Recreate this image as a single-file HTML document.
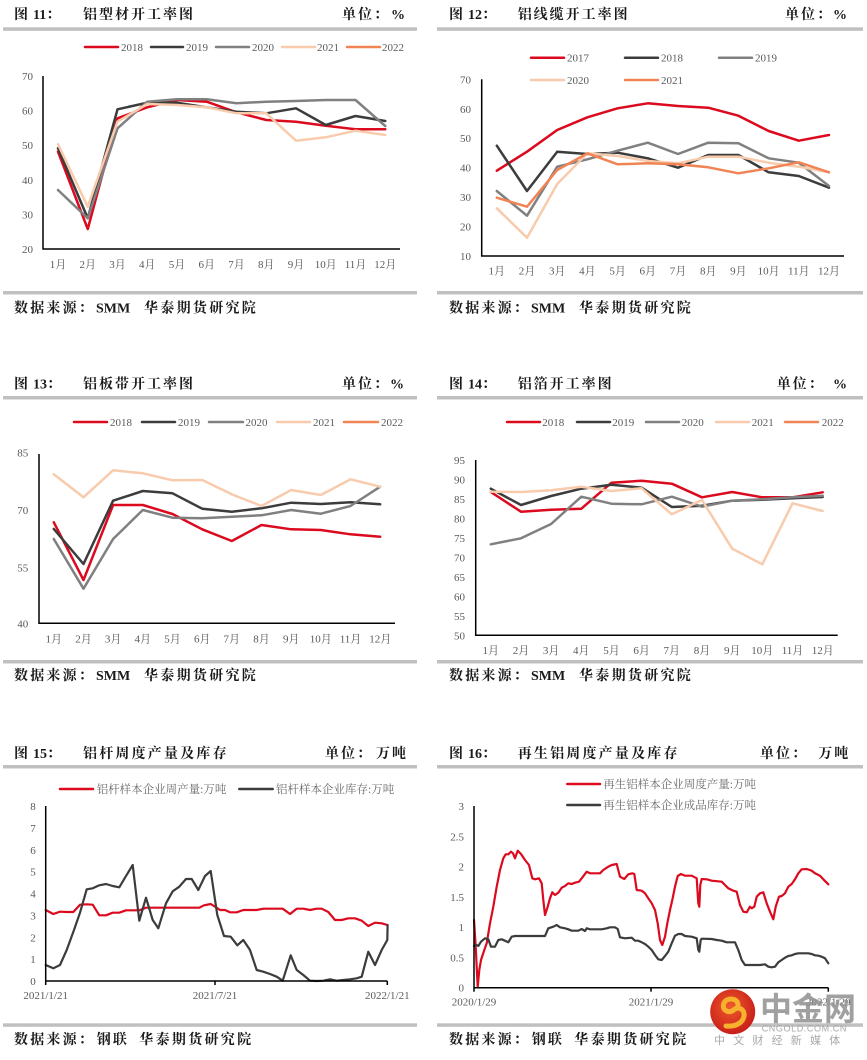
<!DOCTYPE html>
<html><head><meta charset="utf-8">
<style>
html,body{margin:0;padding:0;background:#fff;width:867px;height:1060px;overflow:hidden;}
svg{display:block;}
.t{font-family:"Liberation Serif","Noto Serif CJK SC",serif;font-size:14px;font-weight:bold;fill:#1a1a1a;}
.lg{font-family:"Liberation Serif","Noto Serif CJK SC",serif;font-size:11px;fill:#595959;}
.lg2{font-family:"Liberation Serif","Noto Serif CJK SC",serif;font-size:11.5px;fill:#6a6a6a;}
.tk{font-family:"Liberation Serif","Noto Serif CJK SC",serif;font-size:11px;fill:#595959;}
.ax{stroke:#000;stroke-width:1.5;fill:none;}
.s{fill:none;stroke-width:2.5;stroke-linejoin:round;stroke-linecap:round;}
.s2{fill:none;stroke-width:2.2;stroke-linejoin:round;stroke-linecap:round;}
.r{stroke:#dc0a1e;} .k{stroke:#3c3c3c;} .g{stroke:#808080;} .p{stroke:#f8cbad;} .o{stroke:#f08454;}
.rule{fill:#c0c0c0;}
</style></head><body>
<svg width="867" height="1060" viewBox="0 0 867 1060" xmlns="http://www.w3.org/2000/svg">
<defs>
<clipPath id="c15"><rect x="0" y="980" width="409" height="30"/></clipPath>
<radialGradient id="lg1" cx="45%" cy="40%" r="60%">
<stop offset="0" stop-color="#ef5a2a"/><stop offset="1" stop-color="#c81e1a"/>
</radialGradient>
</defs>

<!-- ============ CHART 11 ============ -->
<text class="t" x="14" y="19">图</text><text class="t" x="33" y="19">11：</text>
<text class="t" x="83" y="19" letter-spacing="2">铝型材开工率图</text>
<text class="t" x="342" y="19" letter-spacing="2">单位：</text><text class="t" x="405" y="19" text-anchor="end">%</text>
<rect class="rule" x="3" y="27.3" width="414" height="3.5"/>
<g>
<line x1="85" y1="47" x2="118" y2="47" class="s r"/><text class="lg" x="121" y="51">2018</text>
<line x1="151" y1="47" x2="183" y2="47" class="s k"/><text class="lg" x="186" y="51">2019</text>
<line x1="216" y1="47" x2="249" y2="47" class="s g"/><text class="lg" x="252" y="51">2020</text>
<line x1="282" y1="47" x2="315" y2="47" class="s p"/><text class="lg" x="317" y="51">2021</text>
<line x1="347" y1="47" x2="380" y2="47" class="s o"/><text class="lg" x="382" y="51">2022</text>
</g>
<g class="tk" text-anchor="end">
<text x="33" y="80">70</text><text x="33" y="114.6">60</text><text x="33" y="149.2">50</text>
<text x="33" y="183.8">40</text><text x="33" y="218.4">30</text><text x="33" y="253">20</text>
</g>
<g class="tk" text-anchor="middle">
<text x="58" y="268">1月</text><text x="87.75" y="268">2月</text><text x="117.5" y="268">3月</text><text x="147.25" y="268">4月</text>
<text x="177" y="268">5月</text><text x="206.75" y="268">6月</text><text x="236.5" y="268">7月</text><text x="266.25" y="268">8月</text>
<text x="296" y="268">9月</text><text x="325.75" y="268">10月</text><text x="355.5" y="268">11月</text><text x="385.25" y="268">12月</text>
</g>
<polyline class="s r" points="58,151.7 87.75,229 117.5,118.3 147.25,107.3 177,100 206.75,101.7 236.5,112.3 266.25,120 296,121.7 325.75,125.7 355.5,129.3 385.25,129.3"/>
<polyline class="s k" points="58,148.3 87.75,218.3 117.5,109.3 147.25,102.7 177,102.7 206.75,107.3 236.5,111.7 266.25,113.3 296,108.3 325.75,125 355.5,116 385.25,121"/>
<polyline class="s g" points="58,190 87.75,218.3 117.5,128.3 147.25,101.7 177,99.3 206.75,99.3 236.5,103.3 266.25,101.7 296,101 325.75,100 355.5,100 385.25,126"/>
<polyline class="s p" points="58,144.3 87.75,206.7 117.5,121.7 147.25,104 177,105 206.75,107.3 236.5,113.3 266.25,113.3 296,140.7 325.75,137.3 355.5,130.7 385.25,135"/>
<polyline class="ax" points="43,76 43,249 400,249"/>
<rect class="rule" x="3" y="291" width="414" height="3.5"/>
<text class="t" x="14" y="312.5" letter-spacing="2.2">数据来源：</text><text class="t" x="96" y="312.5">SMM</text>
<text class="t" x="144" y="312.5" letter-spacing="2.3">华泰期货研究院</text>

<!-- ============ CHART 12 ============ -->
<text class="t" x="449" y="19">图</text><text class="t" x="468" y="19">12：</text>
<text class="t" x="517.7" y="19" letter-spacing="2">铝线缆开工率图</text>
<text class="t" x="785" y="19" letter-spacing="2">单位：</text><text class="t" x="847" y="19" text-anchor="end">%</text>
<rect class="rule" x="437" y="27.3" width="426" height="3.5"/>
<g>
<line x1="531" y1="57.7" x2="564" y2="57.7" class="s r"/><text class="lg" x="567" y="61.7">2017</text>
<line x1="625" y1="57.7" x2="658" y2="57.7" class="s k"/><text class="lg" x="661" y="61.7">2018</text>
<line x1="719" y1="57.7" x2="752" y2="57.7" class="s g"/><text class="lg" x="755" y="61.7">2019</text>
<line x1="531" y1="80" x2="564" y2="80" class="s p"/><text class="lg" x="567" y="84">2020</text>
<line x1="625" y1="80" x2="658" y2="80" class="s o"/><text class="lg" x="661" y="84">2021</text>
</g>
<g class="tk" text-anchor="end">
<text x="471" y="83.3">70</text><text x="471" y="112.8">60</text><text x="471" y="142.2">50</text>
<text x="471" y="171.7">40</text><text x="471" y="201.1">30</text><text x="471" y="230.6">20</text><text x="471" y="260">10</text>
</g>
<g class="tk" text-anchor="middle">
<text x="496.8" y="274.7">1月</text><text x="527" y="274.7">2月</text><text x="557.2" y="274.7">3月</text><text x="587.4" y="274.7">4月</text>
<text x="617.6" y="274.7">5月</text><text x="647.8" y="274.7">6月</text><text x="678" y="274.7">7月</text><text x="708.2" y="274.7">8月</text>
<text x="738.4" y="274.7">9月</text><text x="768.6" y="274.7">10月</text><text x="798.8" y="274.7">11月</text><text x="829" y="274.7">12月</text>
</g>
<polyline class="s r" points="496.8,170.7 527,151.7 557.2,130 587.4,117.3 617.6,108.3 647.8,103.3 678,106 708.2,107.7 738.4,115.7 768.6,131 798.8,140.7 829,135"/>
<polyline class="s k" points="496.8,145.7 527,191 557.2,151.7 587.4,154 617.6,152.7 647.8,158.3 678,167.7 708.2,155 738.4,155 768.6,172.3 798.8,176 829,187.7"/>
<polyline class="s g" points="496.8,191 527,215.7 557.2,166.7 587.4,159.3 617.6,150.7 647.8,142.7 678,154 708.2,142.7 738.4,143.3 768.6,158.3 798.8,162.7 829,186"/>
<polyline class="s p" points="496.8,208.3 527,237.7 557.2,184 587.4,153.3 617.6,156 647.8,161 678,163.3 708.2,156.7 738.4,156.7 768.6,162.7 798.8,166.7 829,172.3"/>
<polyline class="s o" points="496.8,197.7 527,206.7 557.2,170 587.4,153.3 617.6,164.3 647.8,163.3 678,164.3 708.2,167.3 738.4,173.3 768.6,168.3 798.8,162.3 829,172.3"/>
<polyline class="ax" points="481.7,79.3 481.7,256 844,256"/>
<rect class="rule" x="437" y="291" width="426" height="3.5"/>
<text class="t" x="449" y="312.5" letter-spacing="2.2">数据来源：</text><text class="t" x="531" y="312.5">SMM</text>
<text class="t" x="579" y="312.5" letter-spacing="2.3">华泰期货研究院</text>

<!-- ============ CHART 13 ============ -->
<text class="t" x="14" y="388.5">图</text><text class="t" x="33" y="388.5">13：</text>
<text class="t" x="83" y="388.5" letter-spacing="2">铝板带开工率图</text>
<text class="t" x="342" y="388.5" letter-spacing="2">单位：</text><text class="t" x="404" y="388.5" text-anchor="end">%</text>
<rect class="rule" x="3" y="396" width="414" height="3.5"/>
<g>
<line x1="74" y1="422" x2="107" y2="422" class="s r"/><text class="lg" x="110" y="426">2018</text>
<line x1="142" y1="422" x2="175" y2="422" class="s k"/><text class="lg" x="178" y="426">2019</text>
<line x1="209" y1="422" x2="243" y2="422" class="s g"/><text class="lg" x="245.5" y="426">2020</text>
<line x1="277" y1="422" x2="310" y2="422" class="s p"/><text class="lg" x="313" y="426">2021</text>
<line x1="344" y1="422" x2="378" y2="422" class="s o"/><text class="lg" x="381" y="426">2022</text>
</g>
<g class="tk" text-anchor="end">
<text x="28.3" y="456.7">85</text><text x="28.3" y="514">70</text><text x="28.3" y="571.3">55</text><text x="28.3" y="627.3">40</text>
</g>
<g class="tk" text-anchor="middle">
<text x="53.8" y="642.3">1月</text><text x="83.5" y="642.3">2月</text><text x="113.1" y="642.3">3月</text><text x="142.8" y="642.3">4月</text>
<text x="172.5" y="642.3">5月</text><text x="202.2" y="642.3">6月</text><text x="231.8" y="642.3">7月</text><text x="261.5" y="642.3">8月</text>
<text x="291.2" y="642.3">9月</text><text x="320.8" y="642.3">10月</text><text x="350.5" y="642.3">11月</text><text x="380.2" y="642.3">12月</text>
</g>
<polyline class="s r" points="53.8,522.3 83.5,580 113.1,505 142.8,505 172.5,514 202.2,529.3 231.8,541 261.5,525 291.2,529.3 320.8,530 350.5,534.3 380.2,536.7"/>
<polyline class="s k" points="53.8,529 83.5,564 113.1,500.7 142.8,491 172.5,493.3 202.2,508.7 231.8,511.7 261.5,508.3 291.2,502.7 320.8,504 350.5,502.3 380.2,504.3"/>
<polyline class="s g" points="53.8,539 83.5,588.7 113.1,539 142.8,510 172.5,517.7 202.2,518.3 231.8,516.7 261.5,515.3 291.2,510 320.8,513.7 350.5,506 380.2,486.7"/>
<polyline class="s p" points="53.8,474.3 83.5,497.3 113.1,470.3 142.8,473.3 172.5,480.3 202.2,480 231.8,494.3 261.5,506 291.2,490 320.8,495 350.5,479.3 380.2,486.7"/>
<polyline class="ax" points="39,454 39,623.3 395,623.3"/>
<rect class="rule" x="3" y="660" width="414" height="3.5"/>
<text class="t" x="14" y="680" letter-spacing="2.2">数据来源：</text><text class="t" x="96" y="680">SMM</text>
<text class="t" x="144" y="680" letter-spacing="2.3">华泰期货研究院</text>

<!-- ============ CHART 14 ============ -->
<text class="t" x="449" y="388.5">图</text><text class="t" x="468" y="388.5">14：</text>
<text class="t" x="517.7" y="388.5" letter-spacing="2">铝箔开工率图</text>
<text class="t" x="776.7" y="388.5" letter-spacing="2">单位：</text><text class="t" x="847" y="388.5" text-anchor="end">%</text>
<rect class="rule" x="437" y="396" width="426" height="3.5"/>
<g>
<line x1="507" y1="422" x2="540" y2="422" class="s r"/><text class="lg" x="542.3" y="426">2018</text>
<line x1="577" y1="422" x2="610" y2="422" class="s k"/><text class="lg" x="612.3" y="426">2019</text>
<line x1="646" y1="422" x2="679" y2="422" class="s g"/><text class="lg" x="681.7" y="426">2020</text>
<line x1="716" y1="422" x2="749" y2="422" class="s p"/><text class="lg" x="751.7" y="426">2021</text>
<line x1="785" y1="422" x2="818" y2="422" class="s o"/><text class="lg" x="821.7" y="426">2022</text>
</g>
<g class="tk" text-anchor="end">
<text x="465" y="464">95</text><text x="465" y="483.5">90</text><text x="465" y="503">85</text><text x="465" y="522.4">80</text>
<text x="465" y="541.9">75</text><text x="465" y="561.4">70</text><text x="465" y="580.9">65</text><text x="465" y="600.4">60</text>
<text x="465" y="619.8">55</text><text x="465" y="639.3">50</text>
</g>
<g class="tk" text-anchor="middle">
<text x="490.8" y="654">1月</text><text x="521" y="654">2月</text><text x="551.1" y="654">3月</text><text x="581.3" y="654">4月</text>
<text x="611.5" y="654">5月</text><text x="641.6" y="654">6月</text><text x="671.8" y="654">7月</text><text x="702" y="654">8月</text>
<text x="732.2" y="654">9月</text><text x="762.3" y="654">10月</text><text x="792.5" y="654">11月</text><text x="822.7" y="654">12月</text>
</g>
<polyline class="s r" points="490.8,492 521,511.7 551.1,509.7 581.3,508.7 611.5,482.7 641.6,480.7 671.8,483.7 702,497.3 732.2,492 762.3,497.3 792.5,497.3 822.7,492.3"/>
<polyline class="s k" points="490.8,488.7 521,505 551.1,496 581.3,488.7 611.5,484.7 641.6,487.7 671.8,507 702,505.7 732.2,500.7 762.3,499.7 792.5,498.3 822.7,497"/>
<polyline class="s g" points="490.8,544.3 521,538.3 551.1,524 581.3,496.7 611.5,503.7 641.6,504.3 671.8,496.7 702,506.7 732.2,500.7 762.3,499.3 792.5,497.3 822.7,495.7"/>
<polyline class="s p" points="490.8,491.7 521,492 551.1,490.3 581.3,486.7 611.5,491 641.6,488.3 671.8,514.3 702,500 732.2,548.7 762.3,564.3 792.5,503.3 822.7,511"/>
<polyline class="ax" points="475.7,460 475.7,635.3 837.7,635.3"/>
<rect class="rule" x="437" y="660" width="426" height="3.5"/>
<text class="t" x="449" y="680" letter-spacing="2.2">数据来源：</text><text class="t" x="531" y="680">SMM</text>
<text class="t" x="579" y="680" letter-spacing="2.3">华泰期货研究院</text>

<!-- ============ CHART 15 ============ -->
<text class="t" x="14" y="758">图</text><text class="t" x="33" y="758">15：</text>
<text class="t" x="83" y="758" letter-spacing="2.2">铝杆周度产量及库存</text>
<text class="t" x="325" y="758" letter-spacing="2">单位：</text><text class="t" x="376" y="758" letter-spacing="2">万吨</text>
<rect class="rule" x="3" y="765" width="414" height="3.5"/>
<line x1="60" y1="789" x2="93" y2="789" class="s2 r" style="stroke-width:2.5"/><text class="lg2" x="96.7" y="793">铝杆样本企业周产量:万吨</text>
<line x1="239.3" y1="789" x2="272.7" y2="789" class="s2 k" style="stroke-width:2.5"/><text class="lg2" x="276" y="793">铝杆样本企业库存:万吨</text>
<g class="tk" text-anchor="end">
<text x="35.7" y="810">8</text><text x="35.7" y="831.9">7</text><text x="35.7" y="853.8">6</text><text x="35.7" y="875.6">5</text>
<text x="35.7" y="897.5">4</text><text x="35.7" y="919.4">3</text><text x="35.7" y="941.3">2</text><text x="35.7" y="963.1">1</text><text x="35.7" y="985">0</text>
</g>
<g class="tk" text-anchor="middle" clip-path="url(#c15)">
<text x="45.7" y="999">2021/1/21</text><text x="215" y="999">2021/7/21</text><text x="387.3" y="999">2022/1/21</text>
</g>
<polyline class="s2 r" points="45.7,910 53.3,914 60,911.7 66.7,912 73.3,912 80,904.7 86.7,904.3 92.7,904.7 99.3,915.3 106,915.3 112.7,912.7 119.3,912.7 126,910.3 132.7,910.3 139.3,910.3 146,907.7 199.3,907.7 204,905.3 210.7,904 215,906.7 220,910 225,910 230,912.3 236.7,912.3 243.3,910 256.7,910 263.3,908.7 282.7,908.7 290,914 296.7,908.7 303.3,908.7 310,910 316.7,908.7 321.7,908.7 328.3,912 335,920 341.7,920 348.3,918.3 355,918.3 361.7,920.7 368.3,926 375,922.7 381.7,923.3 387.3,925"/>
<polyline class="s2 k" points="45.7,965 53.3,968.3 60,965 66.7,950 74,930 80,912.7 86.7,889.3 92.7,888.3 99.3,885.3 106,884 112.7,886 119.3,887.3 126,876 132.7,865 139.3,920.7 146,897.7 152.7,920 158.3,928.3 166,903.3 172.7,891.3 179.3,886.7 186,879 191.7,879 198.3,890 205,876 210.7,871 217.3,915 224,936 230.7,936.7 237.3,945.3 243.3,940 250,950 256.7,970 263.3,971.7 270,974 276.7,976.7 282.7,980.7 290.7,955.3 296.7,970 303.3,975 310,980.7 316.7,981 323.3,980.7 330,979.3 336.7,980.7 343.3,980 350,979.3 356.7,978.3 361.7,976.7 368.3,951.7 375,965 381.7,950 387.3,940 387.6,925"/>
<polyline class="ax" points="45.7,806 45.7,981 387.3,981"/>
<line class="ax" x1="215" y1="981" x2="215" y2="985"/><line class="ax" x1="387.3" y1="981" x2="387.3" y2="985"/><line class="ax" x1="45.7" y1="981" x2="45.7" y2="985"/>
<rect class="rule" x="3" y="1023.3" width="414" height="3.5"/>
<text class="t" x="14" y="1044" letter-spacing="2.2">数据来源：</text><text class="t" x="96.7" y="1044" letter-spacing="2.2">钢联</text>
<text class="t" x="139.3" y="1044" letter-spacing="2.3">华泰期货研究院</text>

<!-- ============ CHART 16 ============ -->
<text class="t" x="449" y="758">图</text><text class="t" x="468" y="758">16：</text>
<text class="t" x="517.7" y="758" letter-spacing="2.2">再生铝周度产量及库存</text>
<text class="t" x="760" y="758" letter-spacing="2">单位：</text><text class="t" x="818.3" y="758" letter-spacing="2">万吨</text>
<rect class="rule" x="437" y="765" width="426" height="3.5"/>
<line x1="567.3" y1="784" x2="600" y2="784" class="s2 r" style="stroke-width:2.5"/><text class="lg2" x="603.3" y="788">再生铝样本企业周度产量:万吨</text>
<line x1="567.3" y1="805" x2="600" y2="805" class="s2 k" style="stroke-width:2.5"/><text class="lg2" x="603.3" y="809">再生铝样本企业成品库存:万吨</text>
<g class="tk" text-anchor="end">
<text x="464" y="810">3</text><text x="464" y="840.3">2.5</text><text x="464" y="870.6">2</text><text x="464" y="900.8">1.5</text>
<text x="464" y="931.1">1</text><text x="464" y="961.4">0.5</text><text x="464" y="991.7">0</text>
</g>
<g class="tk" text-anchor="middle">
<text x="474" y="1005.7">2020/1/29</text><text x="651" y="1005.7">2021/1/29</text><text x="828.3" y="1005.7">2022/1/29</text>
</g>
<polyline class="s2 r" points="474,920 475.7,946.7 477.7,986.7 479.3,970 481,960 484.3,950 486.7,943.3 490,923.3 493.3,906.7 496.7,886.7 500,870 503.3,858.3 505.7,854.3 508.3,854.3 511,851.7 513,853.3 515,858.3 517.7,850.7 521,854 525,860 529,865 532.3,878.3 535,879.3 539,878.3 541.7,883.3 543.3,900 545,915 547.7,906.7 550,898.3 552.3,892.3 555,895 558.3,892.7 561.7,887.7 565,886 568.3,883.3 571.7,884 575,882.7 579,881.7 581.7,878.3 586.7,871.7 590,873.3 600,873.3 603.3,870 608.3,866.7 611.7,865 616.7,864 620,876.7 624.3,879 628.3,874.3 632.3,873.3 634.3,874 636.7,890 641.7,890.7 645,893.3 648.3,898.3 651.7,903.3 655,910 657.7,923.3 660,940 662.3,945 665,936.7 667.3,923.3 670,910 672.3,900 675,886.7 677.7,876 681,874 685,875.7 691.7,875.7 696.7,878.3 698.3,903.3 699.3,906.7 700.3,885 701.7,879 706.7,879.3 711.7,880.7 721.7,881.7 725,885 728.3,888.3 733.3,890.7 736.7,891.7 740,905 743.3,911.7 746.7,912.3 750,906.7 751.7,908.3 754.3,906.7 756.7,896.7 760,893.3 763.3,892.3 766.7,903.3 770,911.7 773.3,919.3 775.7,906.7 779,896.7 781.7,896 785,893.3 788.3,886.7 791.7,884 795,879.3 798.3,873.3 801.7,869.3 806.7,869 811.7,870.7 815,873.3 820,875.7 823.3,879.3 828.3,884.3"/>
<polyline class="s2 k" points="474,946 476.7,945 478.3,946 481,941.7 485,938.3 488.3,939.3 491,946.7 495,946.7 498.3,940 501.7,939.3 505,940.7 508.3,942.3 511.7,936.7 515,936 545,936 548.3,928.3 553.3,926.7 556.7,925 560,927.3 565,928.3 568.3,929.3 571.7,930.7 578.3,930.7 581.7,929 585,931 586.7,928.3 590,929.3 601.7,929.3 606.7,928.3 610,927.3 615,927.3 617.7,929 620,937.3 625,938.3 631.7,937.7 635,940.7 638.3,940.7 641.7,942.3 645,944 648.3,946.7 651.7,950 655,955 658.3,959.3 661.7,960 665,956 668.3,951.7 671.7,943.3 675,935.7 678.3,934 681.7,934 685,936 691.7,936.7 696.7,938.3 698.3,950 699.3,951.7 700.7,940 701.7,938.7 711.7,939 716.7,940 721.7,940.7 726.7,942.3 735,942.3 738.3,950 741.7,960 745,965 760,965 765,964.3 768.3,966.7 771.7,967.3 775,966.7 778.3,962.3 781.7,960 785,957.7 788.3,956 791.7,955.3 795,954 798.3,953.3 808.3,953.3 811.7,954 815,955.3 818.3,955.7 821.7,956.7 825,958.3 828.3,963.3"/>
<polyline class="ax" points="474,806 474,987.7 828.3,987.7"/>
<line class="ax" x1="474" y1="987.7" x2="474" y2="991.7"/><line class="ax" x1="651" y1="987.7" x2="651" y2="991.7"/><line class="ax" x1="828.3" y1="987.7" x2="828.3" y2="991.7"/>
<rect class="rule" x="437" y="1023.3" width="426" height="3.5"/>
<text class="t" x="449" y="1044" letter-spacing="2.2">数据来源：</text><text class="t" x="531.7" y="1044" letter-spacing="2.2">钢联</text>
<text class="t" x="574.3" y="1044" letter-spacing="2.3">华泰期货研究院</text>

<!-- watermark -->
<circle cx="732.7" cy="1011.7" r="22.5" fill="url(#lg1)"/>
<path d="M738,1005 C738,998 727,997 724,1003 C721,1010 729,1014 733.5,1010 C738,1006 745,1009 744,1016 C743,1023 735,1027 726,1026" fill="none" stroke="#f7b12e" stroke-width="5" stroke-linecap="round"/>
<text x="760" y="1020" style="font-family:'Noto Sans CJK SC',sans-serif;font-size:32px;font-weight:bold;fill:#8f8f8f;fill-opacity:0.85;">中金网</text>
<text x="761.7" y="1031.7" style="font-family:'Liberation Sans',sans-serif;font-size:9px;fill:#a8a8a8;letter-spacing:0.6px;">CNGOLD.COM.CN</text>
<text x="714" y="1044" style="font-family:'Liberation Sans','Noto Sans CJK SC',sans-serif;font-size:11px;fill:#a8a8a8;letter-spacing:8.2px;">中文财经新媒体</text>
</svg>
</body></html>
